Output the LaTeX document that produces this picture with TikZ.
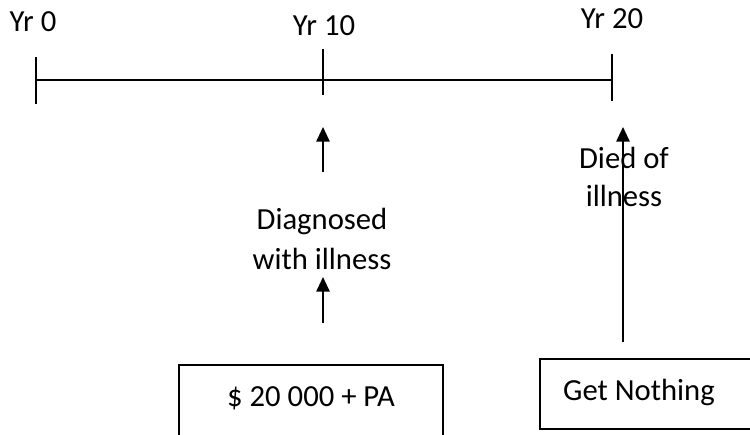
\documentclass[tikz,border=0pt]{standalone}
\usepackage{fontspec}
\setmainfont{Carlito}
\usetikzlibrary{arrows.meta}
\begin{document}
\begin{tikzpicture}[x=0.75pt,y=-0.75pt,
  txt/.style={inner sep=0pt, font=\fontsize{23}{30}\selectfont, align=center},
  axis/.style={line width=1.5pt},
  arr/.style={line width=1.4pt, -{Triangle[width=10pt,length=11pt]}},
  boxs/.style={draw, line width=1.1pt}]
\useasboundingbox (0,0) rectangle (750,435);
% timeline
\coordinate (L) at (36,80);
\coordinate (R) at (612,80);
\draw[axis] (L) -- (R);
\coordinate (t0a) at (36,57);  \coordinate (t0b) at (36,104);
\coordinate (t1a) at (323,49); \coordinate (t1b) at (323,95);
\coordinate (t2a) at (612,54); \coordinate (t2b) at (612,101);
\draw[axis] (t0a) -- (t0b);
\draw[axis] (t1a) -- (t1b);
\draw[axis] (t2a) -- (t2b);
\node[txt] (y0) at (33,22) {Yr 0};
\node[txt] (y10) at (324,26) {Yr 10};
\node[txt] (y20) at (612,19) {Yr 20};
% middle
\node[txt] (diag) at (322,239) {Diagnosed\\with illness};
\coordinate (a1s) at (323,172); \coordinate (a1e) at (323,127);
\coordinate (a2s) at (323,323); \coordinate (a2e) at (323,277);
\draw[arr] (a1s) -- (a1e);
\draw[arr] (a2s) -- (a2e);
% right
\node[txt, font=\fontsize{23}{28}\selectfont] (died) at (624,177) {Died of\\illness};
\coordinate (a3s) at (623,342); \coordinate (a3e) at (623,127);
\draw[arr] (a3s) -- (a3e);
% boxes
\coordinate (b1nw) at (179,365); \coordinate (b1se) at (443,470);
\draw[boxs] (b1nw) rectangle (b1se);
\node[txt] (t1) at (311,398) {\$ 20 000 + PA};
\coordinate (b2nw) at (540,359); \coordinate (b2se) at (780,429);
\draw[boxs] (b2nw) rectangle (b2se);
\node[txt] (t2) at (639,392) {Get Nothing};
\end{tikzpicture}
\end{document}
